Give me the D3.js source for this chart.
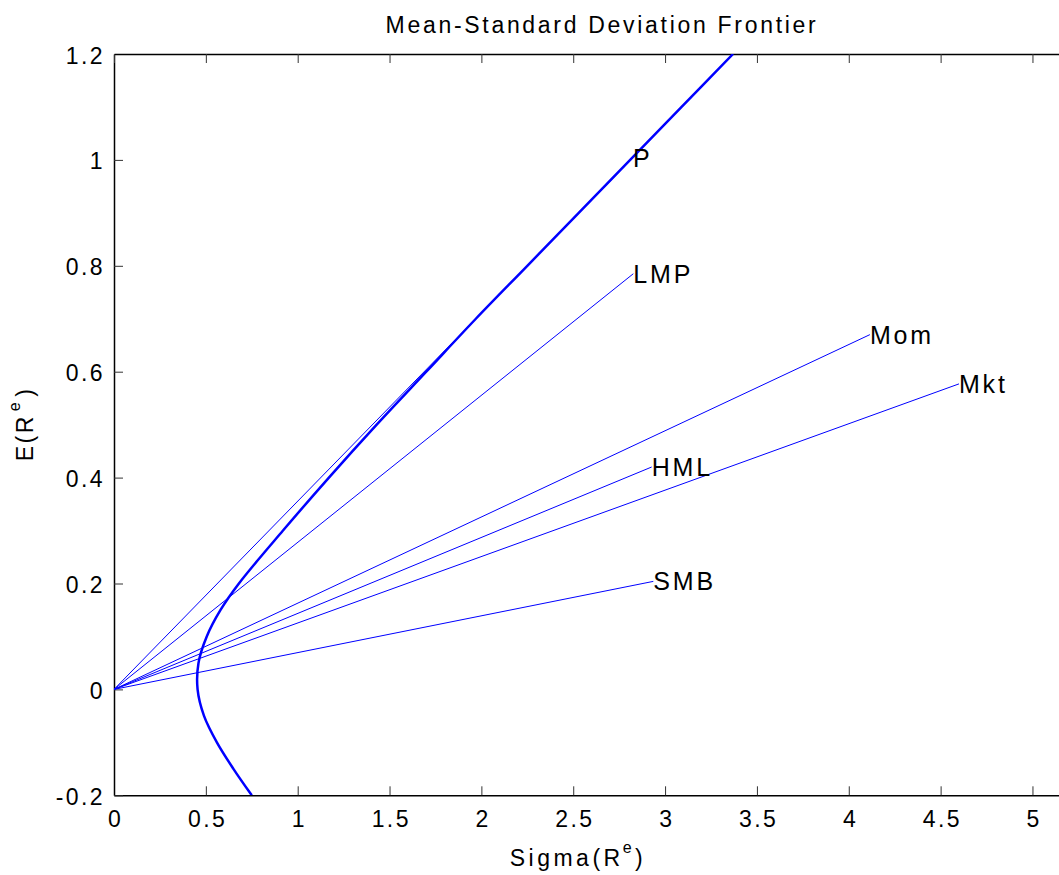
<!DOCTYPE html>
<html>
<head>
<meta charset="utf-8">
<script src="https://cdn.jsdelivr.net/npm/d3@7"></script>
<style>
  body { margin: 0; background: #fff; }
  svg { display: block; font-family: "Liberation Sans", Arial, sans-serif; }
</style>
</head>
<body>
<div id="chart"></div>
<script>
// Mean-standard deviation frontier

// frontier (mean, sigma)
const frontierMean = [-0.2, -0.15, -0.1, -0.05, 0, 0.05, 0.1, 0.15, 0.2, 0.3, 0.4, 0.5, 0.6, 0.7, 0.8, 0.9, 1.0, 1.1, 1.2];
const frontierSigma = [0.75, 0.65, 0.56, 0.49, 0.455, 0.46, 0.505, 0.58, 0.68, 0.92, 1.17, 1.43, 1.70, 1.97, 2.25, 2.53, 2.81, 3.09, 3.37];

// portfolios, each drawn as a ray from the origin
const assetNames = ['P', 'LMP', 'Mom', 'Mkt', 'HML', 'SMB'];
const assetSigma = [2.825, 2.827, 4.115, 4.60, 2.927, 2.936];
const assetMean = [1.004, 0.785, 0.670, 0.577, 0.420, 0.204];

const xTicks = [0, 0.5, 1, 1.5, 2, 2.5, 3, 3.5, 4, 4.5, 5];
const yTicks = [-0.2, 0, 0.2, 0.4, 0.6, 0.8, 1, 1.2];

const width = 1059;
const height = 875;

const svg = d3.select('#chart')
    .append('svg')
    .attr('width', width)
    .attr('height', height);

svg.append('rect')
    .attr('width', width)
    .attr('height', height)
    .attr('fill', '#fff');

// Scales
const x = d3.scaleLinear()
    .domain([0, 5.2])
    .range([114, 1069.2]);

const y = d3.scaleLinear()
    .domain([-0.2, 1.2])
    .range([795.3, 54]);

const fmt = d => String(+d.toFixed(1));

svg.append('clipPath')
    .attr('id', 'plot')
    .append('rect')
    .attr('x', x(0))
    .attr('y', y(1.2))
    .attr('width', x(5.2) - x(0))
    .attr('height', y(-0.2) - y(1.2));

// Axes
const xAxis = svg.append('g')
    .attr('transform', `translate(0, ${y(-0.2)})`)
    .call(d3.axisBottom(x).tickValues(xTicks).tickSize(-9).tickSizeOuter(0).tickFormat(fmt));

xAxis.selectAll('text')
    .attr('y', 32)
    .attr('dy', 0)
    .attr('dx', 1.2)
    .style('font-size', '23px')
    .style('letter-spacing', '2.4px')
    .style('fill', '#000');

const yAxis = svg.append('g')
    .attr('transform', `translate(${x(0)}, 0)`)
    .call(d3.axisLeft(y).tickValues(yTicks).tickSize(-9).tickSizeOuter(0).tickFormat(fmt));

yAxis.selectAll('text')
    .attr('x', -9)
    .attr('dy', 9)
    .style('font-size', '23px')
    .style('letter-spacing', '2.4px')
    .style('fill', '#000');

svg.append('g')
    .attr('transform', `translate(0, ${y(1.2)})`)
    .call(d3.axisTop(x).tickValues(xTicks).tickSize(-9).tickSizeOuter(0).tickFormat(''));

svg.append('g')
    .attr('transform', `translate(${x(5.2)}, 0)`)
    .call(d3.axisRight(y).tickValues(yTicks).tickSize(-9).tickSizeOuter(0).tickFormat(''));

svg.selectAll('.domain')
    .attr('stroke', '#000')
    .attr('stroke-width', 1.5);

svg.selectAll('.tick line')
    .attr('stroke', '#333')
    .attr('stroke-width', 1);

// Rays from the origin
const plot = svg.append('g').attr('clip-path', 'url(#plot)');

plot.selectAll('line.ray')
    .data(assetNames)
    .join('line')
    .attr('class', 'ray')
    .attr('x1', x(0))
    .attr('y1', y(0))
    .attr('x2', (d, i) => x(assetSigma[i]))
    .attr('y2', (d, i) => y(assetMean[i]))
    .attr('stroke', '#0000ff')
    .attr('stroke-width', 1);

// Frontier
const frontier = frontierMean.map((m, i) => [frontierSigma[i], m]);

plot.append('path')
    .datum(frontier)
    .attr('fill', 'none')
    .attr('stroke', '#0000ff')
    .attr('stroke-width', 2.5)
    .attr('d', d3.line()
        .x(d => x(d[0]))
        .y(d => y(d[1]))
        .curve(d3.curveCatmullRom));

// Labels
svg.selectAll('text.asset')
    .data(assetNames)
    .join('text')
    .attr('class', 'asset')
    .attr('x', (d, i) => x(assetSigma[i]))
    .attr('y', (d, i) => y(assetMean[i]) + 9)
    .style('font-size', '25px')
    .style('letter-spacing', '2.8px')
    .style('fill', '#000')
    .text(d => d);

// Title and axis titles
svg.append('text')
    .attr('x', 602)
    .attr('y', 33)
    .attr('text-anchor', 'middle')
    .style('font-size', '23px')
    .style('letter-spacing', '2.7px')
    .text('Mean-Standard Deviation Frontier');

const xLabel = svg.append('text')
    .attr('x', 578)
    .attr('y', 866)
    .attr('text-anchor', 'middle')
    .style('font-size', '23px')
    .style('letter-spacing', '3.5px');
xLabel.append('tspan').text('Sigma(R');
xLabel.append('tspan').attr('dx', -1).attr('dy', -13).style('font-size', '16px').text('e');
xLabel.append('tspan').attr('dy', 13).text(')');

const yLabel = svg.append('text')
    .attr('transform', `translate(33, 424) rotate(-90)`)
    .attr('text-anchor', 'middle')
    .style('font-size', '23px')
    .style('letter-spacing', '2.5px');
yLabel.append('tspan').text('E(R');
yLabel.append('tspan').attr('dx', 3).attr('dy', -13).style('font-size', '16px').text('e');
yLabel.append('tspan').attr('dx', 3).attr('dy', 13).text(')');
</script>
</body>
</html>
